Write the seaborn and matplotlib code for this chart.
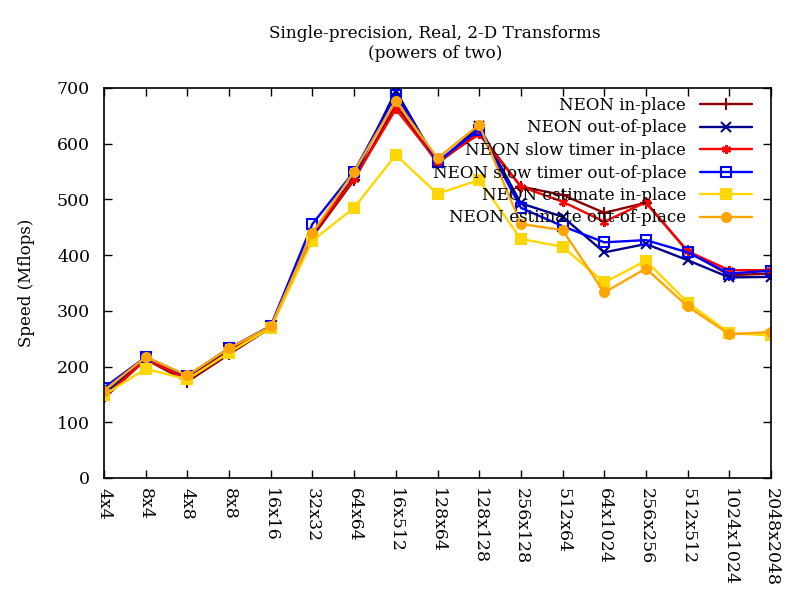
import matplotlib
matplotlib.use("Agg")
import matplotlib.pyplot as plt
import seaborn as sns
import pandas as pd

categories = ["4x4", "8x4", "4x8", "8x8", "16x16", "32x32", "64x64", "16x512",
              "128x64", "128x128", "256x128", "512x64", "64x1024", "256x256",
              "512x512", "1024x1024", "2048x2048"]

neon_in = [143, 213, 173, 222, 270, 433, 535, 670, 565, 620, 523, 508, 476, 494, 407, 364, 367]
neon_out = [150, 215, 180, 228, 272, 440, 540, 695, 565, 631, 493, 469, 405, 420, 391, 360, 361]
slow_in = [145, 213, 178, 226, 272, 438, 537, 662, 568, 617, 523, 496, 460, 495, 407, 373, 373]
slow_out = [162, 217, 183, 233, 273, 456, 550, 688, 568, 625, 485, 452, 423, 427, 405, 367, 372]
est_in = [149, 196, 177, 225, 270, 426, 485, 580, 510, 535, 429, 415, 351, 390, 315, 260, 256]
est_out = [157, 217, 184, 233, 272, 440, 550, 677, 574, 634, 456, 445, 333, 376, 308, 258, 262]

series_names = ["NEON in-place", "NEON out-of-place", "NEON slow timer in-place",
                "NEON slow timer out-of-place", "NEON estimate in-place",
                "NEON estimate out-of-place"]
series_values = [neon_in, neon_out, slow_in, slow_out, est_in, est_out]
colors = ["#8b0000", "#00008b", "#ff0000", "#0000ff", "#ffd700", "#ffa500"]
markers = ["+", "x", (6, 2, 0), "s", "s", "o"]
fills = [True, True, True, False, True, True]

sns.set_style("ticks")
plt.rcParams["font.family"] = ["DejaVu Serif"]
plt.rcParams["xtick.direction"] = "in"
plt.rcParams["ytick.direction"] = "in"
plt.rcParams["text.color"] = "black"
plt.rcParams["axes.labelcolor"] = "black"
plt.rcParams["xtick.color"] = "black"
plt.rcParams["ytick.color"] = "black"

fig = plt.figure(figsize=(8, 6), dpi=100)
ax = fig.add_axes([104 / 800, 1 - 478 / 600, (771 - 104) / 800, (478 - 88) / 600])

rows = []
for name, vals in zip(series_names, series_values):
    for c, v in zip(categories, vals):
        rows.append({"size": c, "speed": v, "series": name})
df = pd.DataFrame(rows)

for name, col, mk, fill in zip(series_names, colors, markers, fills):
    sub = df[df["series"] == name]
    sns.lineplot(data=sub, x="size", y="speed", ax=ax, sort=False, color=col,
                 marker=mk, markersize=6.5 if mk != "+" else 9,
                 markerfacecolor=col if fill else "none",
                 markeredgecolor=col, markeredgewidth=1.5,
                 linewidth=1.7, label=name)

ax.set_xlim(0, len(categories) - 1)
ax.set_ylim(0, 700)
ax.set_yticks(range(0, 701, 100))
ax.set_xticks(range(len(categories)))
ax.set_xticklabels(categories, rotation=-90, ha="center", va="top", fontsize=12.5)
ax.tick_params(axis="y", labelsize=12.5)
ax.tick_params(top=True, right=True, length=6, width=1, pad=7)
ax.tick_params(axis="y", pad=10)
for s in ax.spines.values():
    s.set_linewidth(1.2)
    s.set_color("black")
ax.set_xlabel("")
ax.set_ylabel("Speed (Mflops)", fontsize=12, labelpad=16)

fig.text(435 / 800, 1 - 33 / 600, "Single-precision, Real, 2-D Transforms",
         ha="center", va="center", fontsize=12.2)
fig.text(435 / 800, 1 - 54 / 600, "(powers of two)",
         ha="center", va="center", fontsize=12.2)

leg = ax.legend(loc="upper right", bbox_to_anchor=(752 / 800, 1 - 97 / 600),
                bbox_transform=fig.transFigure, frameon=False, markerfirst=False,
                fontsize=12, handlelength=3.1, handletextpad=0.85,
                labelspacing=0.33, borderpad=0, borderaxespad=0)

fig.savefig("out.png", dpi=100)
